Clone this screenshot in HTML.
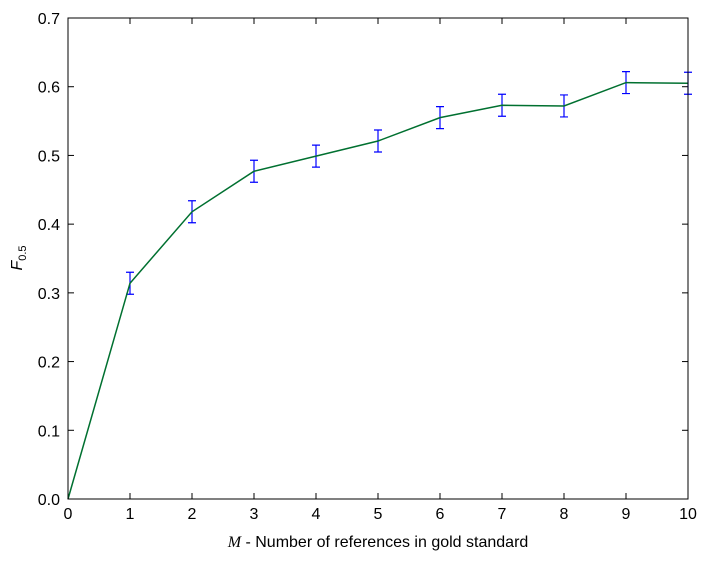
<!DOCTYPE html>
<html><head><meta charset="utf-8"><style>
body{margin:0;background:#fff;}
svg text{font-family:"Liberation Sans",sans-serif;font-size:16px;fill:#000;}
</style></head><body>
<svg id="chart" width="708" height="561" xmlns="http://www.w3.org/2000/svg">
<g id="g"></g>
<rect x="68" y="18" width="620" height="481" fill="none" stroke="#000" stroke-width="1"/>
<text x="378" y="547" text-anchor="middle"><tspan font-family="Liberation Serif" font-style="italic">M</tspan> - Number of references in gold standard</text>
<text transform="translate(22,258) rotate(-90)" text-anchor="middle" font-family="Liberation Serif" font-style="italic">F<tspan font-size="11" dy="4" font-style="normal">0.5</tspan></text>
</svg>
<script>
const xs=[0,1,2,3,4,5,6,7,8,9,10];
const ys=[0,0.314,0.418,0.477,0.499,0.521,0.555,0.573,0.572,0.606,0.605];
const errs=[0,0.016,0.016,0.016,0.016,0.016,0.016,0.016,0.016,0.016,0.016];
const xTicks=[0,1,2,3,4,5,6,7,8,9,10];
const yTicks=[0.0,0.1,0.2,0.3,0.4,0.5,0.6,0.7];
const X=v=>68+v*62, Y=v=>499-v*(481/0.7);
const g=document.getElementById('g'),NS='http://www.w3.org/2000/svg';
function mk(t,a){const e=document.createElementNS(NS,t);for(const k in a)e.setAttribute(k,a[k]);g.appendChild(e);return e;}
xTicks.forEach(t=>{
 const l1=mk('line',{x1:X(t),x2:X(t),y1:499,y2:493,stroke:'#000'});
 
 
 const l2=mk('line',{x1:X(t),x2:X(t),y1:18,y2:24,stroke:'#000'});
 
 
 const tx=mk('text',{x:X(t),y:519,'text-anchor':'middle'});tx.textContent=t;
 
 
});
yTicks.forEach(t=>{
 const l1=mk('line',{x1:68,x2:74,y1:Y(t),y2:Y(t),stroke:'#000'});
 
 
 const l2=mk('line',{x1:688,x2:682,y1:Y(t),y2:Y(t),stroke:'#000'});
 
 
 const tx=mk('text',{x:60,y:Y(t)+6,'text-anchor':'end'});tx.textContent=t.toFixed(1);
 
 
});
xs.forEach((x,i)=>{
 if(!errs[i])return;
 const a=Y(ys[i]+errs[i]),b=Y(ys[i]-errs[i]),cx=X(x);
 const e=mk('path',{d:`M${cx},${a}V${b}M${cx-4},${a}H${cx+4}M${cx-4},${b}H${cx+4}`,stroke:'#0000ff',fill:'none','stroke-width':1.2});
 
 
});
const line=mk('polyline',{points:xs.map((x,i)=>X(x)+','+Y(ys[i])).join(' '),fill:'none',stroke:'#007030','stroke-width':1.5});


</script>
</body></html>
